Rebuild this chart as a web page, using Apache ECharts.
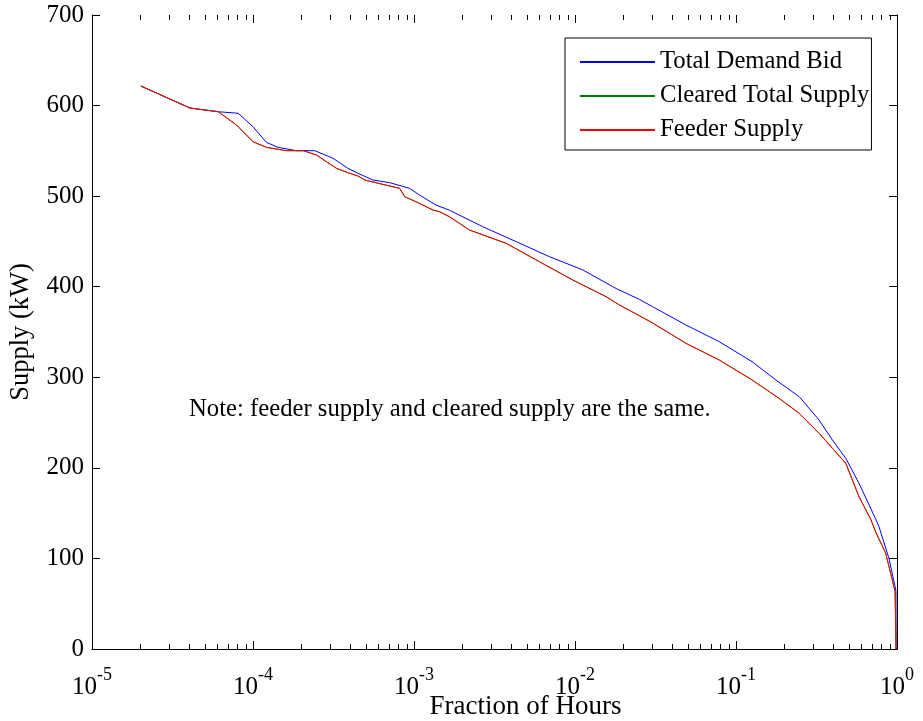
<!DOCTYPE html>
<html>
<head>
<meta charset="utf-8">
<script src="https://cdn.jsdelivr.net/npm/echarts@6/dist/echarts.min.js"></script>
<style>
html,body{margin:0;padding:0;background:#fff;}
#chart{width:923px;height:721px;}
</style>
</head>
<body>
<div id="chart"></div>
<script>
// ---- data ----
const seriesNames = ['Total Demand Bid', 'Cleared Total Supply', 'Feeder Supply'];
const seriesColors = ['#0000ff', '#008000', '#ff0000'];

const demandX = [2.01e-5, 4.06e-5, 6.08e-5, 8.09e-5, 1.0e-4, 1.21e-4, 1.43e-4, 1.86e-4, 2.42e-4, 3.14e-4,
  3.89e-4, 4.49e-4, 5.56e-4, 7.06e-4, 9.40e-4, 1.08e-3, 1.37e-3, 1.66e-3, 2.67e-3, 4.32e-3,
  6.93e-3, 1.12e-2, 1.80e-2, 2.51e-2, 3.03e-2, 4.89e-2, 7.87e-2, 0.126, 0.177, 0.247,
  0.328, 0.397, 0.481, 0.581, 0.738, 0.773, 0.891, 0.973, 0.985, 0.987];
const demandY = [621.6, 597.3, 593.2, 591.5, 576.7, 559.4, 553.9, 550.2, 550.2, 541.8,
  530.7, 525.2, 517.8, 514.9, 508.6, 501.3, 490.2, 484.5, 466.3, 449.7,
  433.2, 418.5, 398.0, 386.0, 378.0, 357.7, 339.3, 317.2, 297.0, 278.6,
  252.8, 230.8, 210.5, 182.9, 143.2, 135.0, 100.1, 68.8, 64.0, 0];

const supplyX = [2.01e-5, 4.06e-5, 6.08e-5, 7.89e-5, 1.0e-4, 1.21e-4, 1.61e-4, 2.05e-4, 2.48e-4, 2.86e-4,
  3.30e-4, 3.89e-4, 4.49e-4, 4.94e-4, 6.41e-4, 8.15e-4, 8.75e-4, 1.08e-3, 1.31e-3, 1.44e-3,
  1.66e-3, 2.21e-3, 3.74e-3, 6.01e-3, 9.68e-3, 1.56e-2, 1.88e-2, 2.51e-2, 3.03e-2, 4.89e-2,
  7.87e-2, 0.124, 0.185, 0.247, 0.328, 0.397, 0.481, 0.581, 0.687, 0.738,
  0.851, 0.935, 0.973, 0.987];
const supplyY = [621.6, 597.3, 593.2, 578.6, 560.1, 553.9, 550.2, 550.2, 545.4, 538.0,
  530.7, 525.9, 522.2, 517.8, 513.0, 508.6, 499.4, 492.1, 484.7, 482.8,
  477.3, 462.6, 447.9, 427.6, 407.4, 389.0, 380.0, 368.0, 360.0, 337.5,
  319.1, 297.8, 276.8, 260.2, 238.2, 221.6, 205.0, 168.0, 143.2, 129.0,
  105.7, 76.2, 63.3, 0];

// feeder supply equals cleared supply
const clearedY = supplyY.slice();
const feederY = supplyY.slice();

const yTicks = [0, 100, 200, 300, 400, 500, 600, 700];
const xDecades = [1e-5, 1e-4, 1e-3, 1e-2, 1e-1, 1];
const minorMultipliers = [2, 3, 4, 5, 6, 7, 8, 9];
const noteText = 'Note: feeder supply and cleared supply are the same.';

// ---- build ----
const FONT = 'Liberation Serif';
function pairs(xs, ys){ return xs.map((x,i)=>[x, ys[i]]); }
const xTickMarks = [];
xDecades.forEach(d => {
  xTickMarks.push([d, 8]);
  if (d < 1) minorMultipliers.forEach(m => xTickMarks.push([d*m, 5]));
});

const chart = echarts.init(document.getElementById('chart'), null, {renderer:'canvas'});

const axisLineStyle = {show: true, lineStyle:{color:'#000', width:1}};
function lineSeries(i, ys, xs, z){
  return {
    name: seriesNames[i], type: 'line', data: pairs(xs, ys),
    symbol: 'none', showSymbol: false, color: seriesColors[i],
    itemStyle: {color: seriesColors[i], borderColor: seriesColors[i]},
    lineStyle: {width: 1, color: seriesColors[i]}, z: z
  };
}
const option = {
  animation: false,
  backgroundColor: '#fff',
  grid: {left: 92, top: 15, width: 805, height: 634, containLabel: false, outerBoundsMode: 'none'},
  legend: {
    data: seriesNames.map((n, i) => ({
      name: n, icon: 'rect',
      itemStyle: {color: seriesColors[i], borderColor: seriesColors[i], borderWidth: 0}
    })),
    orient: 'vertical',
    left: 565, top: 38,
    itemWidth: 75, itemHeight: 2,
    itemGap: 8,
    padding: [11, 2, 7, 15],
    borderColor: '#000', borderWidth: 1,
    backgroundColor: '#fff',
    itemStyle: {borderWidth: 0},
    textStyle: {fontFamily: FONT, fontSize: 24.7, color: '#000', lineHeight: 26},
    selectedMode: false
  },
  xAxis: [{
    type: 'log', logBase: 10, min: 1e-5, max: 1, splitNumber: 5,
    position: 'bottom',
    axisLine: axisLineStyle,
    axisTick: {show: false},
    splitLine: {show: false},
    axisLabel: {
      margin: 17,
      formatter: function(v){ return '{b|10}{s|' + Math.round(Math.log10(v)) + '}'; },
      rich: {
        b: {fontFamily: FONT, fontSize: 25, color:'#000', lineHeight: 34, verticalAlign: 'bottom'},
        s: {fontFamily: FONT, fontSize: 18, color:'#000', verticalAlign: 'top', lineHeight: 18}
      }
    },
    name: 'Fraction of Hours', nameLocation: 'middle', nameGap: 44, nameMoveOverlap: false,
    nameTextStyle: {fontFamily: FONT, fontSize: 27, color: '#000', padding: [0, 0, 0, 62]}
  }, {
    type: 'log', logBase: 10, min: 1e-5, max: 1, splitNumber: 5,
    position: 'top',
    axisLine: axisLineStyle,
    axisTick: {show: false},
    axisLabel: {show: false},
    splitLine: {show: false}
  }],
  yAxis: [{
    type: 'value', min: 0, max: 700, interval: 100,
    position: 'left',
    axisLine: axisLineStyle,
    axisTick: {show: true, inside: true, length: 8, lineStyle:{color:'#000'}},
    splitLine: {show: false},
    axisLabel: {margin: 8, fontFamily: FONT, fontSize: 25, color: '#000',
      formatter: v => (yTicks.indexOf(v) >= 0 ? String(v) : '')},
    name: 'Supply (kW)', nameLocation: 'middle', nameGap: 57,
    nameTextStyle: {fontFamily: FONT, fontSize: 26.5, color: '#000'}
  }, {
    type: 'value', min: 0, max: 700, interval: 100,
    position: 'right',
    axisLine: axisLineStyle,
    axisTick: {show: true, inside: true, length: 8, lineStyle:{color:'#000'}},
    splitLine: {show: false},
    axisLabel: {show: false}
  }],
  graphic: [{
    type: 'text', left: 189, top: 397,
    style: {text: noteText, font: '24.7px "Liberation Serif"', fill: '#000'}
  }],
  series: [
    lineSeries(0, demandY, demandX, 3),
    lineSeries(1, clearedY, supplyX, 4),
    lineSeries(2, feederY, supplyX, 5),
    {
    name: 'xTicks', type: 'custom', silent: true, z: 6, clip: false,
    data: xTickMarks,
    renderItem: function(params, api){
      const len = api.value(1);
      const b = api.coord([api.value(0), 0]);
      const t = api.coord([api.value(0), 700]);
      const x = Math.round(b[0]) + 0.5;
      return {type: 'group', children: [
        {type:'line', shape:{x1:x, y1:b[1], x2:x, y2:b[1]-len}, style:{stroke:'#000', lineWidth:1}},
        {type:'line', shape:{x1:x, y1:t[1], x2:x, y2:t[1]+len}, style:{stroke:'#000', lineWidth:1}}
      ]};
    }
  }]
};
chart.setOption(option);
</script>
</body>
</html>
